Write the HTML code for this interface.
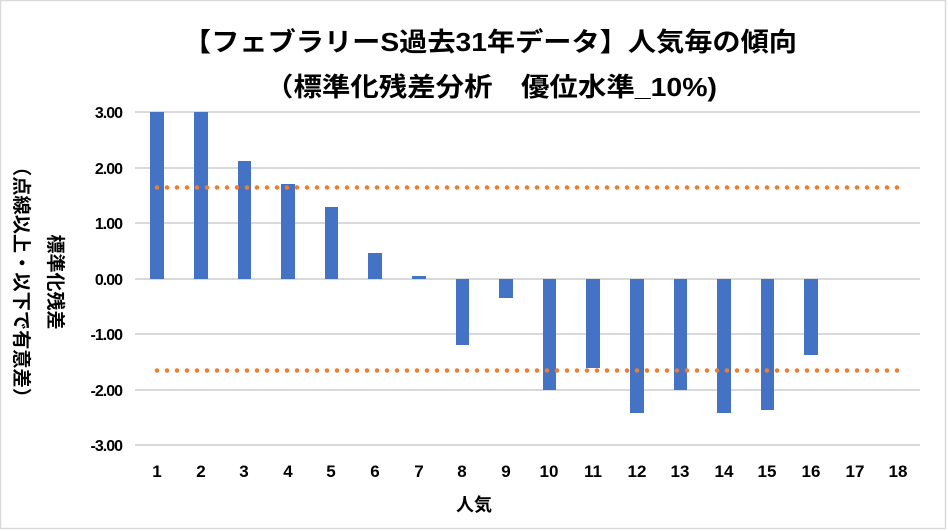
<!DOCTYPE html>
<html><head><meta charset="utf-8"><style>
html,body{margin:0;padding:0;background:#fff;}
svg{display:block;}
text{font-family:"Liberation Sans","Noto Sans CJK JP",sans-serif;font-weight:bold;fill:#000;}
</style></head><body>
<svg width="948" height="531" viewBox="0 0 948 531" xmlns="http://www.w3.org/2000/svg">
<rect x="0.5" y="0.5" width="945" height="528" fill="#fff" stroke="#d9d9d9" stroke-width="1.5"/>
<text x="490" y="51" font-size="26" text-anchor="middle" textLength="614" lengthAdjust="spacingAndGlyphs">【フェブラリーS過去31年データ】人気毎の傾向</text>
<text x="491" y="96" font-size="26" text-anchor="middle" textLength="452" lengthAdjust="spacingAndGlyphs">（標準化残差分析　優位水準_10%)</text>
<g stroke="#d9d9d9" stroke-width="2">
<line x1="135" x2="920" y1="112" y2="112"/><line x1="135" x2="920" y1="168" y2="168"/>
<line x1="135" x2="920" y1="223" y2="223"/><line x1="135" x2="920" y1="279" y2="279"/>
<line x1="135" x2="920" y1="334" y2="334"/><line x1="135" x2="920" y1="390" y2="390"/>
<line x1="135" x2="920" y1="445" y2="445"/>
</g>
<g font-size="16" text-anchor="end" letter-spacing="-1">
<text x="122" y="118">3.00</text><text x="122" y="174">2.00</text><text x="122" y="229">1.00</text>
<text x="122" y="285">0.00</text><text x="122" y="340">-1.00</text><text x="122" y="396">-2.00</text>
<text x="122" y="451">-3.00</text>
</g>
<g fill="#4472c4">
<rect x="150" y="112" width="14" height="167"/>
<rect x="194" y="112" width="14" height="167"/>
<rect x="238" y="161" width="13" height="118"/>
<rect x="281" y="184" width="14" height="95"/>
<rect x="325" y="207" width="13" height="72"/>
<rect x="368" y="253" width="14" height="26"/>
<rect x="412" y="276" width="14" height="3"/>
<rect x="456" y="279" width="13" height="66"/>
<rect x="499" y="279" width="14" height="19"/>
<rect x="543" y="279" width="13" height="111"/>
<rect x="586" y="279" width="14" height="89"/>
<rect x="630" y="279" width="14" height="134"/>
<rect x="674" y="279" width="13" height="111"/>
<rect x="717" y="279" width="14" height="134"/>
<rect x="761" y="279" width="13" height="131"/>
<rect x="804" y="279" width="14" height="76"/>
</g>
<g stroke="#ed7d31" stroke-width="4.5" stroke-linecap="round" stroke-dasharray="0 10">
<line x1="157" x2="900" y1="187.5" y2="187.5"/>
<line x1="157" x2="900" y1="370.5" y2="370.5"/>
</g>
<g font-size="17" text-anchor="middle">
<text x="157" y="477">1</text><text x="201" y="477">2</text><text x="244" y="477">3</text>
<text x="288" y="477">4</text><text x="331" y="477">5</text><text x="375" y="477">6</text>
<text x="419" y="477">7</text><text x="462" y="477">8</text><text x="506" y="477">9</text>
<text x="549" y="477">10</text><text x="593" y="477">11</text><text x="637" y="477">12</text>
<text x="680" y="477">13</text><text x="724" y="477">14</text><text x="767" y="477">15</text>
<text x="811" y="477">16</text><text x="855" y="477">17</text><text x="898" y="477">18</text>
</g>
<text x="474" y="511" font-size="18" text-anchor="middle">人気</text>
<text transform="translate(49,282) rotate(90)" font-size="19" text-anchor="middle">標準化残差</text>
<text transform="translate(15,282) rotate(90)" font-size="19" text-anchor="middle" textLength="250" lengthAdjust="spacingAndGlyphs">（点線以上・以下で有意差）</text>
</svg>
</body></html>
